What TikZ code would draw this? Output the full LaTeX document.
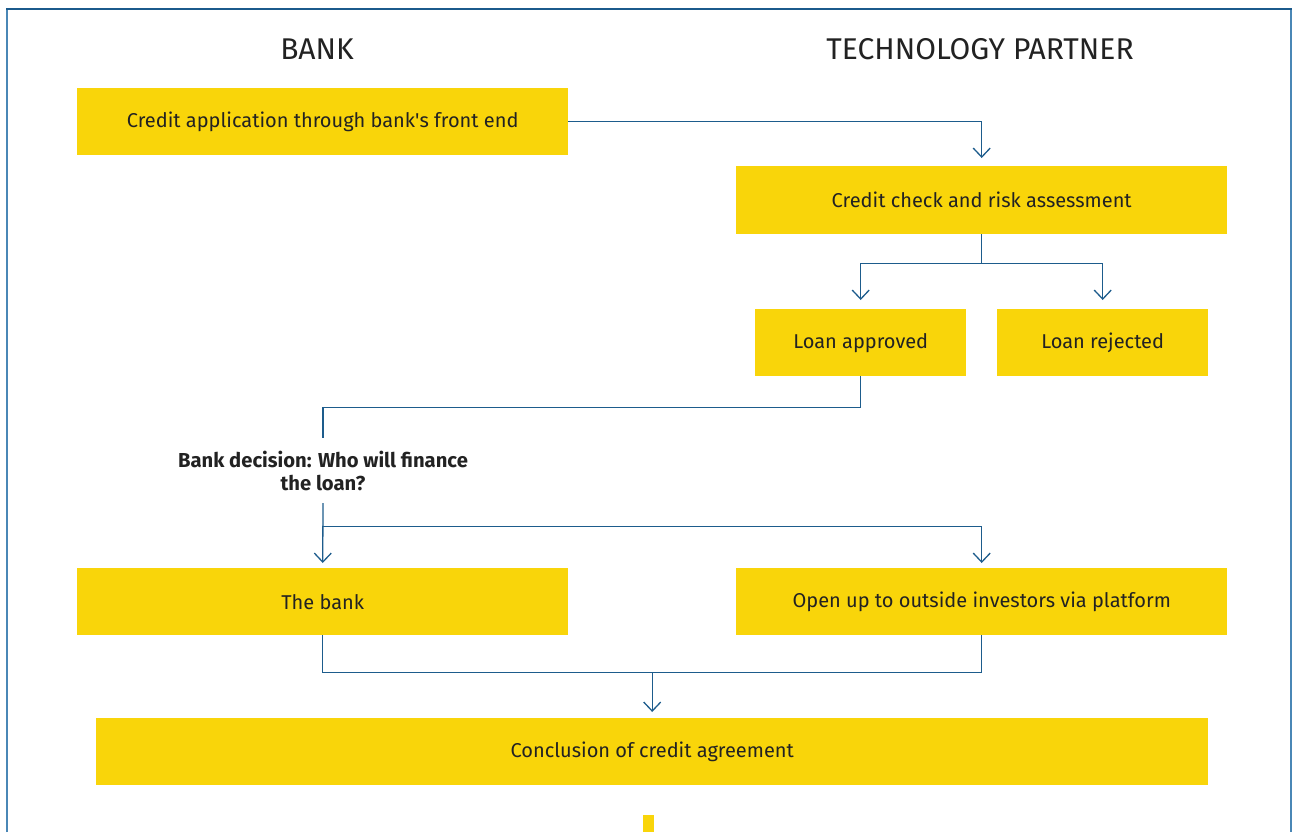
\documentclass[tikz,border=0pt]{standalone}
\usepackage{fontspec}
\setmainfont{Fira Sans}
\usetikzlibrary{arrows.meta}
\definecolor{boxyellow}{HTML}{F9D50A}
\definecolor{flowblue}{HTML}{1D5C8C}
\definecolor{frameblue}{HTML}{4A87B6}
\definecolor{frametop}{HTML}{1B5A8C}
\definecolor{inkgrey}{HTML}{222222}
\tikzset{
  stage/.style={fill=boxyellow, draw=none, inner sep=0pt, text=inkgrey,
    font=\fontsize{20}{24}\selectfont, anchor=north west},
  heading/.style={text=inkgrey, font=\fontsize{30}{34}\selectfont},
  question/.style={text=inkgrey, align=center, inner sep=0pt,
    font=\bfseries\fontsize{20.2}{23}\selectfont},
  flow/.style={draw=flowblue, line width=1.3pt},
  flowarrow/.style={flow, -{Straight Barb[length=9pt,width=17pt,line width=1.3pt]}},
}
\begin{document}
\begin{tikzpicture}[x=1pt,y=-1pt]
  \useasboundingbox (0,0) rectangle (1297,832);
  % outer frame, open at the bottom
  \draw[frameblue, line width=2pt] (7,832) -- (7,9);
  \draw[frameblue, line width=2pt] (1291,9) -- (1291,832);
  \draw[frametop, line width=2pt] (6,9) -- (1292,9);

  % column headings
  \node[heading] (hbank) at (317,49) {BANK};
  \node[heading] (htech) at (980,49) {TECHNOLOGY PARTNER};

  % process stages
  \node[stage, minimum width=491pt, minimum height=67pt] (app) at (77,88)
    {Credit application through bank\textquotesingle s front end};
  \node[stage, minimum width=491pt, minimum height=68pt] (check) at (736,166)
    {Credit check and risk assessment};
  \node[stage, minimum width=211pt, minimum height=67pt] (approved) at (755,309)
    {Loan approved};
  \node[stage, minimum width=211pt, minimum height=67pt] (rejected) at (997,309)
    {Loan rejected};
  \node[question, minimum height=65pt] (decision) at (323,470.5)
    {Bank decision: Who will finance\\the loan?};
  \node[stage, minimum width=491pt, minimum height=67pt] (bank) at (77,568)
    {The bank};
  \node[stage, minimum width=491pt, minimum height=67pt] (platform) at (736,568)
    {Open up to outside investors via platform};
  \node[stage, minimum width=1112pt, minimum height=67pt] (conclusion) at (96,718)
    {Conclusion of credit agreement};

  % connectors
  \draw[flowarrow, shorten >=8pt] (app.east) -| (check.north);
  \draw[flowarrow, shorten >=9pt] (check.south) -- ++(0,29) -| (approved.north);
  \draw[flowarrow, shorten >=9pt] (check.south) ++(0,29) -| (rejected.north);
  \draw[flow] (approved.south) -- ++(0,31) -| (decision.north);
  \draw[flowarrow, shorten >=5pt] (decision.south) -- (bank.north);
  \draw[flowarrow, shorten >=5pt] (decision.south) ++(0,23) -| (platform.north);
  \draw[flow] (bank.south) -- ++(0,37) -| (platform.south);
  \path (bank.south) ++(0,37) coordinate (merge);
  \draw[flowarrow, shorten >=6pt] (merge -| conclusion.north) -- (conclusion.north);

  % start of the next stage below
  \fill[boxyellow] (643,815) rectangle (654,832);
\end{tikzpicture}
\end{document}
